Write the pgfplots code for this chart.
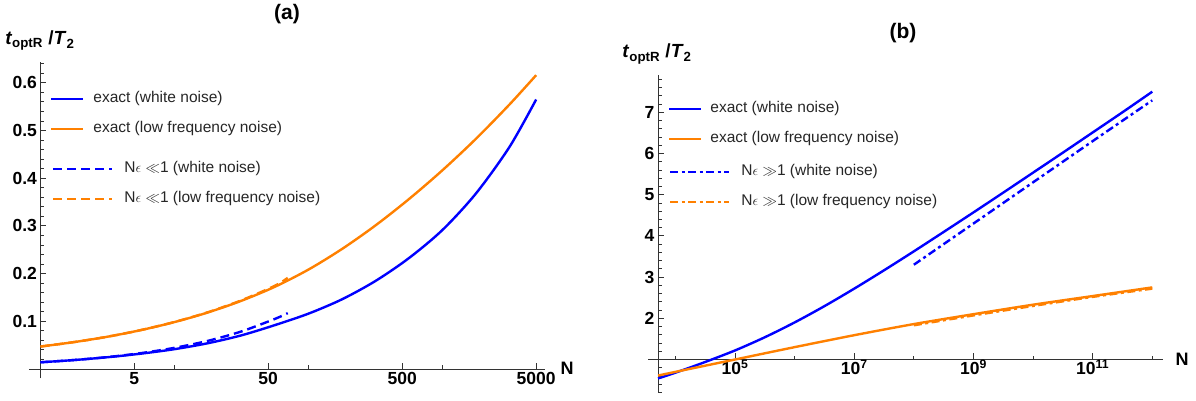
\documentclass[border=0pt]{standalone}
\usepackage{fontspec}
\setmainfont{Liberation Sans}
\usepackage{pgfplots}
\pgfplotsset{compat=1.18}
\definecolor{mblue}{rgb}{0,0,1}
\definecolor{morange}{rgb}{1,0.5,0}
\newcommand{\tl}{\fontsize{17.5}{17.5}\selectfont\bfseries}
\newcommand{\lf}{\fontsize{15.5}{15.5}\selectfont}
\newcommand{\ylab}{\textit{t}\textsubscript{optR} /\textit{T}\textsubscript{2}}
\tikzset{
  sol/.style={line width=2.4pt, smooth},
  dsh/.style={line width=2.4pt, smooth, dash pattern=on 9pt off 5pt},
  dd/.style={line width=2.4pt, smooth, dash pattern=on 8pt off 3.5pt on 3pt off 3.5pt},
}
\pgfplotsset{
  short/.style={legend image code/.code={\draw[##1] (0pt,0pt) -- (32pt,0pt);}},
  long/.style={legend image code/.code={\draw[##1] (0pt,0pt) -- (59pt,0pt);}},
}
\begin{document}
\begin{tikzpicture}
\path[use as bounding box] (0,0) rectangle (1196pt,401pt);
% ---------------- panel (a) ----------------
\begin{semilogxaxis}[scale only axis, at={(29pt,22.5pt)}, anchor=south west,
  width=516pt, height=316.7pt,
  xmin=0.821, xmax=5821, ymin=-0.02, ymax=0.644,
  axis x line=bottom, axis y line=left,
  axis x line shift=-9.54pt, axis y line shift=-11.5pt,
  axis line style={-, black!80, line width=0.9pt},
  every tick/.style={black!80, line width=0.8pt},
  tick align=inside, major tick length=6pt, minor tick length=3.5pt,
  tick label style={font=\tl, text=black},
  xtick={5,50,500,5000}, xticklabels={5,50,500,5000}, minor xtick={10,100,1000},
  ytick={0.1,0.2,0.3,0.4,0.5,0.6}, yticklabels={0.1,0.2,0.3,0.4,0.5,0.6},
  minor ytick={0.02,0.04,0.06,0.08,0.12,0.14,0.16,0.18,0.22,0.24,0.26,0.28,0.32,0.34,0.36,0.38,0.42,0.44,0.46,0.48,0.52,0.54,0.56,0.58,0.62,0.64},
  title={(a)}, every axis title/.style={at={(axis description cs:0.5,1.15)}, anchor=center, font=\fontsize{21}{21}\selectfont\bfseries},
  xlabel={N}, every axis x label/.style={at={(axis description cs:1.043,0.033)}, anchor=center, font=\fontsize{18}{18}\selectfont\bfseries},
  ylabel={\ylab}, every axis y label/.style={at={(axis description cs:0.021,1.066)}, anchor=center, font=\fontsize{19}{19}\selectfont\bfseries},
  legend cell align=left,
  legend style={draw=none, fill=none, inner sep=0pt, outer sep=0pt,
      row sep=15pt, font=\lf, text=black!85,
      nodes={inner sep=0pt, text height=11.5pt, text depth=3.5pt},
      /tikz/every odd column/.append style={column sep=9pt},
      at={(axis description cs:0.0407,0.9064)}, anchor=north west},
]
\addplot[mblue, sol, short] coordinates {
(1,0.014) (1.778,0.0187) (3.162,0.0246) (5.623,0.0321) (10,0.0415) (17.78,0.054)
(31.62,0.0705) (56.23,0.092) (100,0.116) (177.8,0.146) (316.2,0.1845) (562.3,0.2325)
(1000,0.2915) (1778,0.368) (3162,0.4655) (5000,0.565)};
\addlegendentry{exact (white noise)}
\addplot[morange, sol, short] coordinates {
(1,0.047) (1.778,0.0563) (3.162,0.0676) (5.623,0.0815) (10,0.0983) (17.78,0.1185)
(31.62,0.143) (56.23,0.1724) (100,0.2084) (177.8,0.2515) (316.2,0.3009) (562.3,0.3562)
(1000,0.4167) (1778,0.4826) (3162,0.5545) (5000,0.616)};
\addlegendentry{exact (low frequency noise)}
\end{semilogxaxis}
\begin{semilogxaxis}[scale only axis, hide axis, at={(29pt,22.5pt)}, anchor=south west,
  width=516pt, height=316.7pt,
  xmin=0.821, xmax=5821, ymin=-0.02, ymax=0.644,
  legend cell align=left,
  legend style={draw=none, fill=none, inner sep=0pt, outer sep=0pt,
      row sep=15pt, font=\lf, text=black!85,
      nodes={inner sep=0pt, text height=11.5pt, text depth=3.5pt},
      /tikz/every odd column/.append style={column sep=11pt},
      at={(axis description cs:0.0446,0.6853)}, anchor=north west},
]
\addplot[mblue, dsh, long] coordinates {
(1,0.014) (1.778,0.0187) (3.162,0.0249) (5.623,0.0332) (10,0.0443) (17.78,0.059)
(31.62,0.0787) (56.23,0.105) (70,0.117)};
\addlegendentry{N$\epsilon$ $\ll$1 (white noise)}
\addplot[morange, dsh, long] coordinates {
(1,0.047) (1.778,0.0563) (3.162,0.0676) (5.623,0.0816) (10,0.0985) (17.78,0.119)
(31.62,0.144) (56.23,0.1745) (70,0.191)};
\addlegendentry{N$\epsilon$ $\ll$1 (low frequency noise)}
\end{semilogxaxis}
% ---------------- panel (b) ----------------
\begin{semilogxaxis}[scale only axis, at={(648pt,8pt)}, anchor=south west,
  width=515pt, height=318pt,
  xmin=3467, xmax=1.514e12, ymin=0.187, ymax=7.905,
  axis x line=bottom, axis y line=left,
  axis x line shift=-33.5pt, axis y line shift=-10pt,
  axis line style={-, black!80, line width=0.9pt},
  every tick/.style={black!80, line width=0.8pt},
  tick align=inside, major tick length=6pt, minor tick length=3.5pt,
  tick label style={font=\tl, text=black},
  xticklabel style={yshift=3pt},
  xtick={1e5,1e7,1e9,1e11},
  xticklabels={10\textsuperscript{5},10\textsuperscript{7},10\textsuperscript{9},10\textsuperscript{11}},
  minor xtick={1e4,1e6,1e8,1e10,1e12},
  ytick={2,3,4,5,6,7}, yticklabels={2,3,4,5,6,7},
  minor ytick={0.2,0.4,0.6,0.8,1.2,1.4,1.6,1.8,2.2,2.4,2.6,2.8,3.2,3.4,3.6,3.8,4.2,4.4,4.6,4.8,5.2,5.4,5.6,5.8,6.2,6.4,6.6,6.8,7.2,7.4,7.6,7.8},
  title={(b)}, every axis title/.style={at={(axis description cs:0.495,1.132)}, anchor=center, font=\fontsize{21}{21}\selectfont\bfseries},
  xlabel={N}, every axis x label/.style={at={(axis description cs:1.037,0.107)}, anchor=center, font=\fontsize{18}{18}\selectfont\bfseries},
  ylabel={\ylab}, every axis y label/.style={at={(axis description cs:0.0175,1.066)}, anchor=center, font=\fontsize{19}{19}\selectfont\bfseries},
  legend cell align=left,
  legend style={draw=none, fill=none, inner sep=0pt, outer sep=0pt,
      row sep=15pt, font=\lf, text=black!85,
      nodes={inner sep=0pt, text height=11.5pt, text depth=3.5pt},
      /tikz/every odd column/.append style={column sep=8pt},
      at={(axis description cs:0.0388,0.917)}, anchor=north west},
]
\addplot[mblue, sol, short] coordinates {
(5.1e3,0.54) (1e4,0.68) (3.16e4,0.94) (1e5,1.22) (3.16e5,1.54) (1e6,1.90) (3.16e6,2.295)
(1e7,2.72) (3.16e7,3.165) (1e8,3.625) (3.16e8,4.095) (1e9,4.57) (3.16e9,5.05) (1e10,5.535)
(3.16e10,6.02) (1e11,6.51) (3.16e11,7.0) (1e12,7.50)};
\addlegendentry{exact (white noise)}
\addplot[morange, sol, short] coordinates {
(5.1e3,0.61) (1e4,0.70) (1e5,1.00) (1e6,1.30) (1e7,1.59) (1e8,1.86) (1e9,2.10)
(1e10,2.33) (1e11,2.54) (1e12,2.75)};
\addlegendentry{exact (low frequency noise)}
\end{semilogxaxis}
\begin{semilogxaxis}[scale only axis, hide axis, at={(648pt,8pt)}, anchor=south west,
  width=515pt, height=318pt,
  xmin=3467, xmax=1.514e12, ymin=0.187, ymax=7.905,
  legend cell align=left,
  legend style={draw=none, fill=none, inner sep=0pt, outer sep=0pt,
      row sep=15pt, font=\lf, text=black!85,
      nodes={inner sep=0pt, text height=11.5pt, text depth=3.5pt},
      /tikz/every odd column/.append style={column sep=11pt},
      at={(axis description cs:0.0408,0.719)}, anchor=north west},
]
\addplot[mblue, dd, long] coordinates {
(1e8,3.30) (1e9,4.30) (1e10,5.30) (1e11,6.30) (1e12,7.29)};
\addlegendentry{N$\epsilon$ $\gg$1 (white noise)}
\addplot[morange, dd, long] coordinates {
(1e8,1.83) (1e9,2.07) (1e10,2.30) (1e11,2.52) (1e12,2.72)};
\addlegendentry{N$\epsilon$ $\gg$1 (low frequency noise)}
\end{semilogxaxis}
\end{tikzpicture}
\end{document}
